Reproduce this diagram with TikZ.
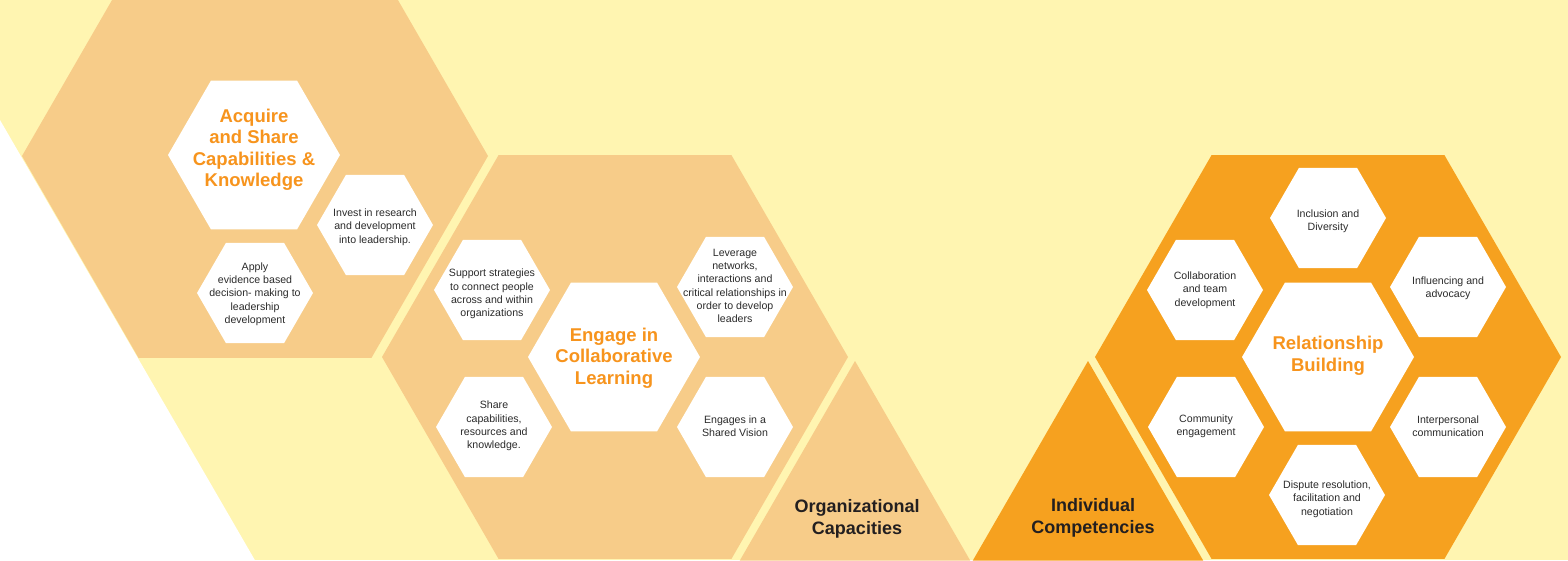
\documentclass[tikz,border=0pt]{standalone}
\usepackage{fontspec}
\setmainfont{Liberation Sans}
\usetikzlibrary{shapes.geometric}
\definecolor{bgyellow}{HTML}{FFF5B1}
\definecolor{lightorange}{HTML}{F7CC89}
\definecolor{deeporange}{HTML}{F6A11F}
\definecolor{headorange}{HTML}{F7941D}
\definecolor{darktext}{HTML}{231F20}
\definecolor{greytext}{HTML}{2B2B2B}
\begin{document}
\begin{tikzpicture}[x=1pt,y=-1pt]
	\def \bigsize{466pt}
	\def \midsize{172pt}
	\def \smallsize{116pt}
	\def \trisize{266pt}
	\tikzstyle{hex}=[regular polygon,regular polygon sides=6,draw=none,inner sep=0pt,outer sep=0pt]
	\tikzstyle{b-hex}=[hex,minimum size=\bigsize]
	\tikzstyle{m-hex}=[hex,fill=white,minimum size=\midsize]
	\tikzstyle{s-hex}=[hex,fill=white,minimum size=\smallsize]
	\tikzstyle{tri}=[regular polygon,regular polygon sides=3,draw=none,inner sep=0pt,outer sep=0pt,minimum size=\trisize]
	\tikzstyle{s-text}=[align=center,text=greytext,font=\fontsize{10.6}{13.3}\selectfont]
	\tikzstyle{h-text}=[align=center,text=headorange,font=\fontsize{18.5}{21.5}\selectfont\bfseries]
	\tikzstyle{c-text}=[align=center,text=darktext,font=\fontsize{18}{21.5}\selectfont\bfseries]
	\useasboundingbox (0,0) rectangle (1568,560);
	\clip (0,0) rectangle (1568,560);
	\fill[bgyellow] (0,0) rectangle (1568,560);
	\fill[white] (0,120) -- (0,562) -- (256,562) -- cycle;
	
	% large hexagons and triangles
	\node[b-hex,fill=lightorange]	(h-acquire)	at (255,156)	{};
	\node[b-hex,fill=lightorange]	(h-engage)	at (615,357)	{};
	\node[b-hex,fill=deeporange]	(h-relation)	at (1328,357)	{};
	\node[tri,fill=lightorange]	(t-org)	at (855,494)	{};
	\node[tri,fill=deeporange]	(t-ind)	at (1088,494)	{};
	
	% acquire and share
	\node[m-hex]	(m-acquire)	at (254,155)	{};
	\node[s-hex]	(s-invest)	at (375,225)	{};
	\node[s-hex]	(s-apply)	at (255,293)	{};
	\node[h-text]	(acquire)	at (254,150)	{Acquire\\and Share\\Capabilities \&\\Knowledge};
	\node[s-text]	(invest)	at (375,227)	{Invest in research\\and development\\into leadership.};
	\node[s-text]	(apply)	at (255,294)	{Apply\\evidence based\\decision- making to\\leadership\\development};
	
	% collaborative learning
	\node[m-hex]	(m-engage)	at (614,357)	{};
	\node[s-hex]	(s-support)	at (492,290)	{};
	\node[s-hex]	(s-leverage)	at (735,287)	{};
	\node[s-hex]	(s-share)	at (494,427)	{};
	\node[s-hex]	(s-vision)	at (735,427)	{};
	\node[h-text]	(engage)	at (614,358)	{Engage in\\Collaborative\\Learning};
	\node[s-text]	(support)	at (492,294)	{Support strategies\\to connect people\\across and within\\organizations};
	\node[s-text]	(leverage)	at (735,286)	{Leverage\\networks,\\interactions and\\critical relationships in\\order to develop\\leaders};
	\node[s-text]	(share)	at (494,426)	{Share\\capabilities,\\resources and\\knowledge.};
	\node[s-text]	(vision)	at (735,426)	{Engages in a\\Shared Vision};
	
	% relationship building
	\node[m-hex]	(m-relation)	at (1328,357)	{};
	\node[s-hex]	(s-inclusion)	at (1328,218)	{};
	\node[s-hex]	(s-collab)	at (1205,290)	{};
	\node[s-hex]	(s-influence)	at (1448,287)	{};
	\node[s-hex]	(s-community)	at (1206,427)	{};
	\node[s-hex]	(s-interpers)	at (1448,427)	{};
	\node[s-hex]	(s-dispute)	at (1327,495)	{};
	\node[h-text]	(relation)	at (1328,356)	{Relationship\\Building};
	\node[s-text]	(inclusion)	at (1328,221)	{Inclusion and\\Diversity};
	\node[s-text]	(collab)	at (1205,290)	{Collaboration\\and team\\development};
	\node[s-text]	(influence)	at (1448,288)	{Influencing and\\advocacy};
	\node[s-text]	(community)	at (1206,426)	{Community\\engagement};
	\node[s-text]	(interpers)	at (1448,426)	{Interpersonal\\communication};
	\node[s-text]	(dispute)	at (1327,499)	{Dispute resolution,\\facilitation and\\negotiation};
	
	% captions
	\node[c-text]	(org)	at (857,519)	{Organizational\\Capacities};
	\node[c-text]	(ind)	at (1093,518)	{Individual\\Competencies};
\end{tikzpicture}
\end{document}
